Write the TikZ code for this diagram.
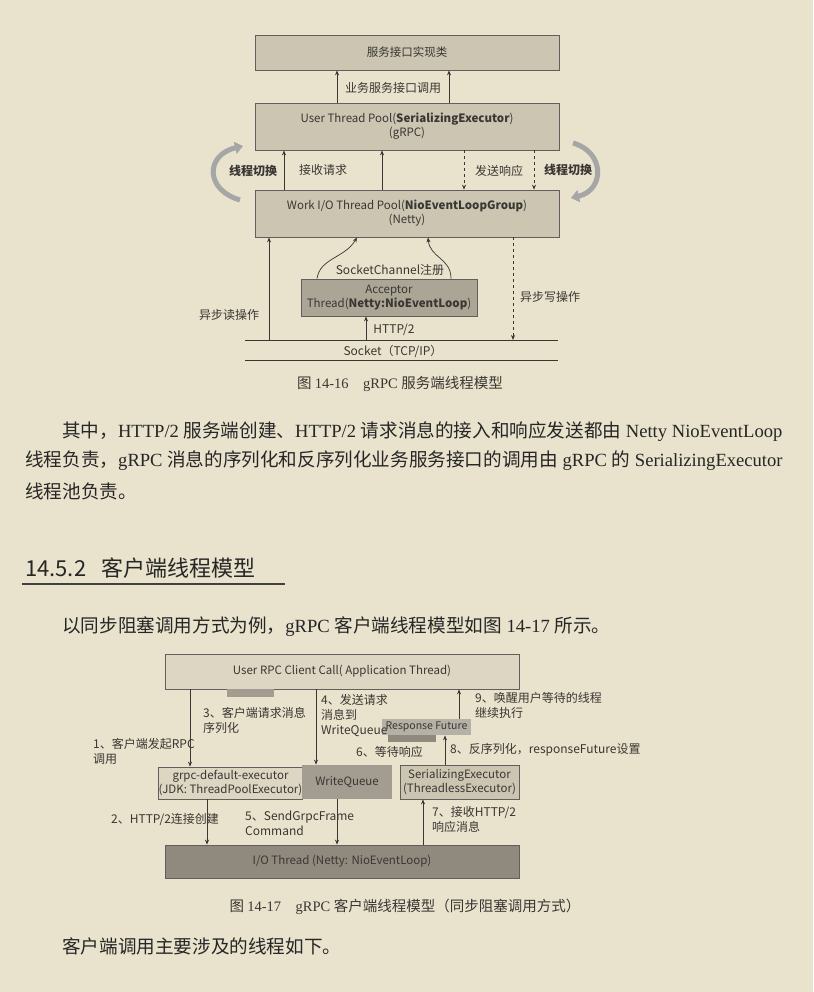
\documentclass[tikz,border=0pt]{standalone}
\usepackage{fontspec}
\setmainfont{Liberation Serif}
\newfontfamily\cjk{Noto Sans CJK SC}
\usetikzlibrary{arrows.meta}
\definecolor{paper}{HTML}{E9E2CC}
\definecolor{boxa}{HTML}{CCC5B2}
\definecolor{boxb}{HTML}{ABA595}
\definecolor{boxl}{HTML}{DCD6C3}
\definecolor{boxd}{HTML}{8F8A7D}
\definecolor{boxm}{HTML}{A29D90}
\definecolor{ink}{HTML}{3A3733}
\tikzset{
 bx/.style={draw=ink!80,line width=0.8pt,inner sep=0pt,font=\cjk\fontsize{11.5}{14}\selectfont,align=center,text=ink},
 lab/.style={font=\cjk\fontsize{12}{15}\selectfont,text=ink,inner sep=0pt,align=left},
 ar/.style={-{Stealth[length=5pt,width=4pt]},line width=0.7pt,draw=ink},
 dar/.style={ar,dashed},
 sw/.style={line width=5pt,draw=gray!70,-{Triangle[length=8pt,width=12pt]}},
 para/.style={font=\fontsize{18.6}{20}\selectfont,text=black!85,inner sep=0pt,anchor=west}
}
\begin{document}
\begin{tikzpicture}[x=1pt,y=-1pt]
\useasboundingbox (0,0) rectangle (813,992);
\fill[paper] (0,0) rectangle (813,992);
% ---------- Figure 14-16
\node[bx,fill=boxa,minimum width=304,minimum height=35] (impl) at (407,52.5) {服务接口实现类};
\node[bx,fill=boxa,minimum width=304,minimum height=47] (user) at (407,126.5) {User Thread Pool(\textbf{SerializingExecutor})\\(gRPC)};
\node[bx,fill=boxa,minimum width=304,minimum height=47] (work) at (407,213.5) {Work I/O Thread Pool(\textbf{NioEventLoopGroup})\\(Netty)};
\node[bx,fill=boxb,minimum width=176,minimum height=37] (acc) at (389,297.5) {Acceptor\\Thread(\textbf{Netty:NioEventLoop})};
\coordinate (s1l) at (245,340); \coordinate (s1r) at (558,340);
\coordinate (s2l) at (245,360); \coordinate (s2r) at (558,360);
\draw[ink,line width=0.6pt] (s1l) -- (s1r) (s2l) -- (s2r);
\node[lab] (sock) at (393,351) {Socket（TCP/IP）};
\draw[ar] (user.north -| 337,0) -- (impl.south -| 337,0);
\draw[ar] (user.north -| 449,0) -- (impl.south -| 449,0);
\node[lab] (l1) at (393,88) {业务服务接口调用};
\draw[ar] (work.north -| 284,0) -- (user.south -| 284,0);
\draw[ar] (work.north -| 382,0) -- (user.south -| 382,0);
\node[lab] (l2) at (323,170) {接收请求};
\draw[dar] (user.south -| 464,0) -- (work.north -| 464,0);
\draw[dar] (user.south -| 534,0) -- (work.north -| 534,0);
\node[lab] (l3) at (499,171) {发送响应};
\node[lab,font=\cjk\bfseries\fontsize{12}{15}\selectfont] (sw1) at (253,171) {线程切换};
\node[lab,font=\cjk\bfseries\fontsize{12}{15}\selectfont] (sw2) at (568,170) {线程切换};
\coordinate (a1s) at (240,200); \coordinate (a1e) at (243,146);
\draw[sw] (a1s) .. controls (205,190) and (205,155) .. (a1e);
\coordinate (a2s) at (573,143); \coordinate (a2e) at (571,198);
\draw[sw] (a2s) .. controls (605,152) and (605,190) .. (a2e);
\draw[ar] (s1l -| 269,0) -- (work.south -| 269,0);
\node[lab] (l4) at (229,315) {异步读操作};
\draw[dar] (work.south -| 513,0) -- (s1l -| 513,0);
\node[lab] (l5) at (550,297) {异步写操作};
\draw[ar] (acc.north -| 317,0) .. controls (320,258) and (345,258) .. (work.south -| 357,0);
\draw[ar] (acc.north -| 451,0) .. controls (451,258) and (430,258) .. (work.south -| 428,0);
\node[lab] (l6) at (390,270) {SocketChannel注册};
\draw[ar] (s1l -| 366,0) -- (acc.south -| 366,0);
\node[lab] (l7) at (394,330) {HTTP/2};
\node[font=\fontsize{14.5}{16}\selectfont,text=ink] (cap1) at (400,384) {\cjk 图\ \rmfamily 14-16\quad gRPC {\cjk 服务端线程模型}};
% ---------- text
\node[para] (p1) at (62,432) {{\cjk 其中，}HTTP/2 {\cjk 服务端创建、}HTTP/2 {\cjk 请求消息的接入和响应发送都由} Netty NioEventLoop};
\node[para] (p2) at (25,461) {{\cjk 线程负责，}gRPC {\cjk 消息的序列化和反序列化业务服务接口的调用由} gRPC {\cjk 的} SerializingExecutor};
\node[para] (p3) at (25,491) {\cjk 线程池负责。};
\node[para,font=\cjk\fontsize{22}{24}\selectfont] (h) at (25,568) {14.5.2\ \ \ 客户端线程模型};
\coordinate (ul1) at (22,584); \coordinate (ul2) at (285,584);
\draw[black!75,line width=1.4pt] (ul1) -- (ul2);
\node[para] (p4) at (62,627) {{\cjk 以同步阻塞调用方式为例，}gRPC {\cjk 客户端线程模型如图} 14-17 {\cjk 所示。}};
% ---------- Figure 14-17
\node[bx,fill=boxl,minimum width=354,minimum height=35] (app) at (342,671.5) {User RPC Client Call( Application Thread)};
\node[bx,fill=boxm,draw=none,minimum width=47,minimum height=8] (bar1) at (250.5,693) {};
\node[bx,fill=boxl,minimum width=131,minimum height=32] (gde) at (230.5,783) {grpc-default-executor\\(JDK: ThreadPoolExecutor)};
\node[bx,fill=boxm,draw=none,minimum width=90,minimum height=34] (wq) at (347,782) {WriteQueue};
\node[bx,fill=boxa,minimum width=119,minimum height=34] (se) at (459.5,782) {SerializingExecutor\\(ThreadlessExecutor)};
\node[bx,fill=boxd,minimum width=354,minimum height=33] (io) at (342,861.5) {I/O Thread (Netty: NioEventLoop)};
\node[bx,fill=boxm!80,draw=none,minimum width=89,minimum height=16,font=\cjk\fontsize{10.5}{12}\selectfont] (rf) at (426.5,727) {Response Future};
\node[bx,fill=boxd,draw=none,minimum width=48,minimum height=7] (bar2) at (412,738.5) {};
\draw[ar] (app.south -| 190,0) -- (gde.north -| 190,0);
\node[lab,anchor=north west] (c3) at (203,707) {3、客户端请求消息\\序列化};
\node[lab,anchor=north west] (c1) at (93,738) {1、客户端发起RPC\\调用};
\draw[ar] (gde.south -| 207,0) -- (io.north -| 207,0);
\node[lab,anchor=west] (c2) at (111,820) {2、HTTP/2连接创建};
\draw[ar] (app.south -| 316,0) -- (wq.north -| 316,0);
\node[lab,anchor=north west] (c4) at (321,694) {4、发送请求\\消息到\\WriteQueue};
\draw[ar] (wq.south -| 337,0) -- (io.north -| 337,0);
\node[lab,anchor=north west] (c5) at (245,811) {5、SendGrpcFrame\\Command};
\draw[ar] (io.north -| 423,0) -- (se.south -| 423,0);
\node[lab,anchor=north west] (c7) at (432,806) {7、接收HTTP/2\\响应消息};
\draw[ar] (se.north -| 445,0) -- (rf.south -| 445,0);
\node[lab,anchor=west] (c8) at (450,750) {8、反序列化，responseFuture设置};
\draw[ar] (rf.north -| 459,0) -- (app.south -| 459,0);
\node[lab,anchor=north west] (c9) at (475,692) {9、唤醒用户等待的线程\\继续执行};
\node[lab,anchor=west] (c6) at (356,752) {6、等待响应};
\node[font=\fontsize{14.5}{16}\selectfont,text=ink] (cap2) at (405,907) {\cjk 图\ \rmfamily 14-17\quad gRPC {\cjk 客户端线程模型（同步阻塞调用方式）}};
\node[para] (p5) at (62,946) {\cjk 客户端调用主要涉及的线程如下。};
\end{tikzpicture}
\end{document}
